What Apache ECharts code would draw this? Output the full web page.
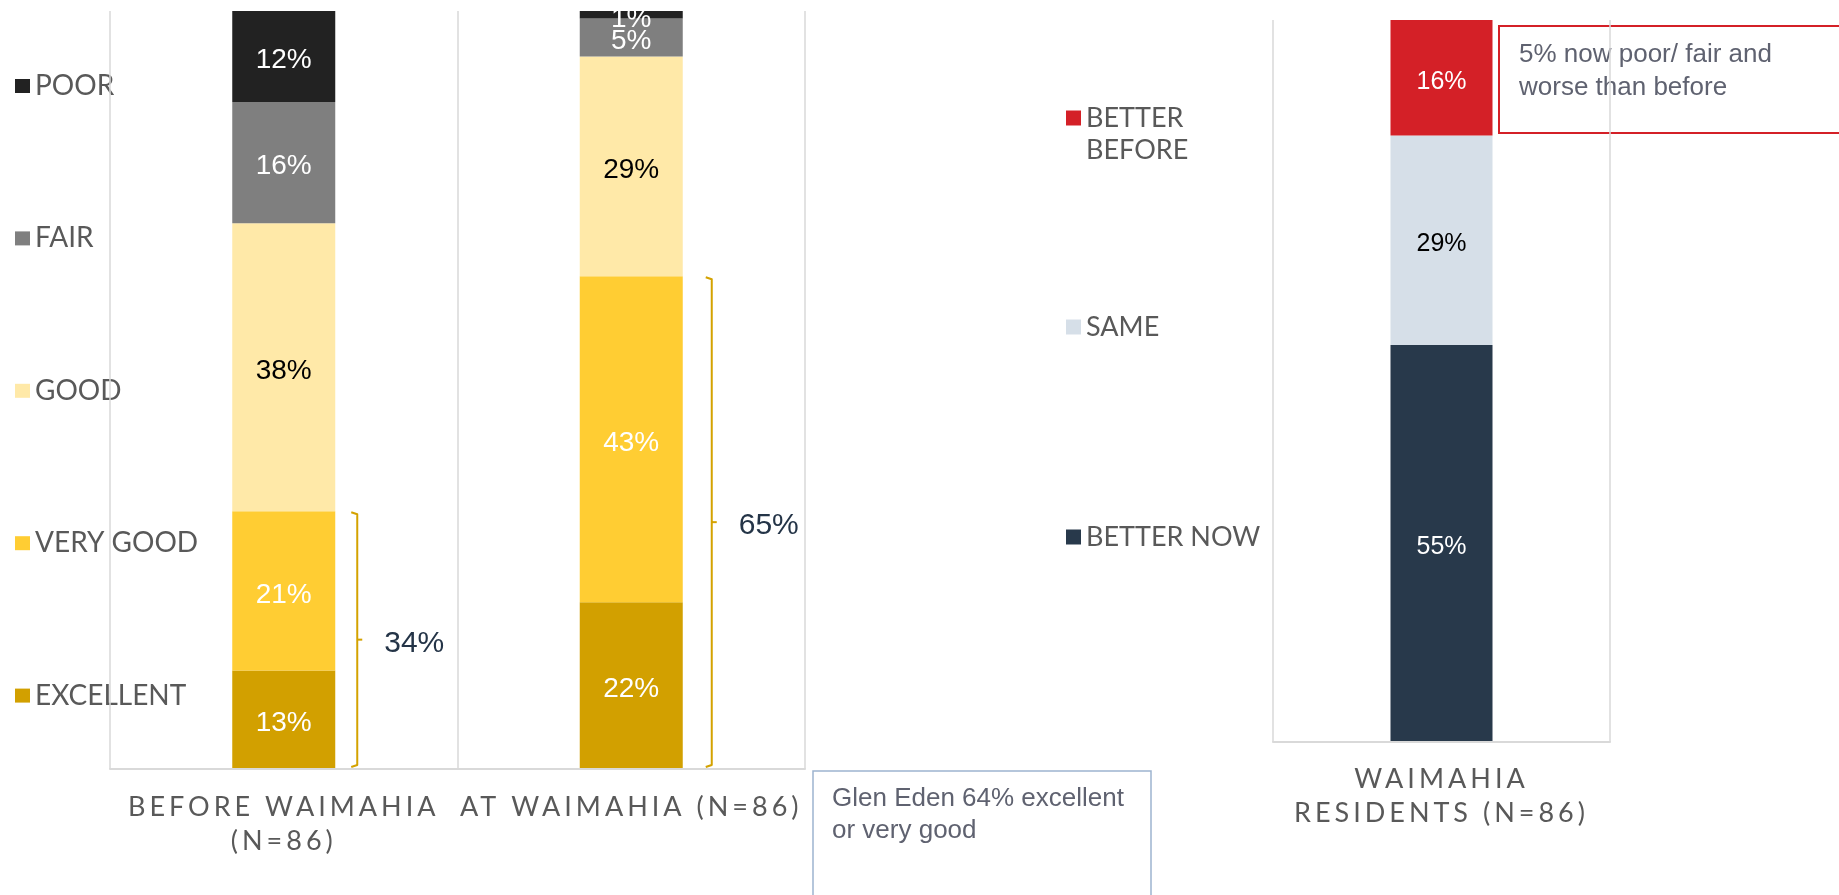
<!DOCTYPE html>
<html><head><meta charset="utf-8">
<script src="https://cdn.jsdelivr.net/npm/echarts@6/dist/echarts.min.js"></script>
<style>html,body{margin:0;padding:0;background:#fff}#c{width:1839px;height:895px}</style>
</head><body><div id="c"></div>
<script>
// ---- data ----
const ratingCategories = ['BEFORE WAIMAHIA\n(N=86)', 'AT WAIMAHIA (N=86)'];
const ratingLegend = ['POOR', 'FAIR', 'GOOD', 'VERY GOOD', 'EXCELLENT'];
const excellent = [13, 22];
const veryGood = [21, 43];
const good = [38, 29];
const fair = [16, 5];
const poor = [12, 1];

const changeCategories = ['WAIMAHIA\nRESIDENTS (N=86)'];
const betterNow = [55];
const same = [29];
const betterBefore = [16];

const noteLeft = 'Glen Eden 64% excellent\nor very good';
const noteRight = '5% now poor/ fair and\nworse than before';

// ---- styles ----
const GRID_COLOR = '#d9d9d9';
const TEXT_GRAY = '#595959';
const GOLD = '#d4a200';
const LEFT_BAR_W = 103;
const RIGHT_BAR_W = 102;
const bracketOffsets = [22, 29];
const labelFont = '"Liberation Sans", Arial, sans-serif';

function barSeries(name, data, color, labelColor, axis, stack, width, fontSize) {
  return {
    name, type: 'bar', data, stack, xAxisIndex: axis, yAxisIndex: axis, barWidth: width,
    itemStyle: { color },
    label: { show: true, position: 'inside', offset: [0, 4], formatter: p => p.value + '%', color: labelColor,
             fontFamily: labelFont, fontSize },
    emphasis: { disabled: true }, animation: false
  };
}

const axisCommon = {
  type: 'category', zlevel: 5,
  axisLine: { lineStyle: { color: GRID_COLOR, width: 2 } },
  axisTick: { length: 9, lineStyle: { color: GRID_COLOR, width: 1.5 } },
  splitLine: { show: true, lineStyle: { color: GRID_COLOR, width: 1.5 } },
  axisLabel: { interval: 0, fontFamily: 'Lato', fontSize: 27, color: TEXT_GRAY }
};

const option = {
  animation: false,
  backgroundColor: '#fff',
  grid: [
    { left: 110, top: 11, width: 695, height: 758 },
    { left: 1273, top: 20, width: 337, height: 722 }
  ],
  xAxis: [
    Object.assign({}, axisCommon, { gridIndex: 0, data: ratingCategories,
      axisLabel: Object.assign({}, axisCommon.axisLabel, { margin: 21, lineHeight: 34 }) }),
    Object.assign({}, axisCommon, { gridIndex: 1, data: changeCategories,
      axisLabel: Object.assign({}, axisCommon.axisLabel, { margin: 20, lineHeight: 34 }) })
  ],
  yAxis: [
    { type: 'value', gridIndex: 0, min: 0, max: 100, show: false },
    { type: 'value', gridIndex: 1, min: 0, max: 100, show: false }
  ],
  legend: [
    { data: ratingLegend, orient: 'vertical', left: 15, top: 72, padding: 0, itemGap: 124.4,
      itemWidth: 15, itemHeight: 14, icon: 'rect', selectedMode: false,
      textStyle: { fontFamily: 'Lato', fontSize: 28, lineHeight: 28, color: TEXT_GRAY } },
    { data: ['BETTER BEFORE'], orient: 'vertical', left: 1066, top: 70, padding: 0,
      itemWidth: 15, itemHeight: 15, icon: 'rect', selectedMode: false,
      formatter: n => '\n' + n.replace(' ', '\n'),
      textStyle: { fontFamily: 'Lato', fontSize: 27, lineHeight: 32, color: TEXT_GRAY } },
    { data: ['SAME', 'BETTER NOW'], orient: 'vertical', left: 1066, top: 312, padding: 0, itemGap: 180,
      itemWidth: 15, itemHeight: 15, icon: 'rect', selectedMode: false,
      textStyle: { fontFamily: 'Lato', fontSize: 27, lineHeight: 30, color: TEXT_GRAY } }
  ],
  series: [
    barSeries('EXCELLENT', excellent, '#d2a000', '#fff', 0, 'rating', LEFT_BAR_W, 28),
    barSeries('VERY GOOD', veryGood, '#ffcd33', '#fff', 0, 'rating', LEFT_BAR_W, 28),
    barSeries('GOOD', good, '#ffe9a8', '#000', 0, 'rating', LEFT_BAR_W, 28),
    barSeries('FAIR', fair, '#7f7f7f', '#fff', 0, 'rating', LEFT_BAR_W, 28),
    barSeries('POOR', poor, '#222222', '#fff', 0, 'rating', LEFT_BAR_W, 28),
    barSeries('BETTER NOW', betterNow, '#28394b', '#fff', 1, 'change', RIGHT_BAR_W, 25),
    barSeries('SAME', same, '#d6dfe8', '#000', 1, 'change', RIGHT_BAR_W, 25),
    barSeries('BETTER BEFORE', betterBefore, '#d42027', '#fff', 1, 'change', RIGHT_BAR_W, 25),
    {
      type: 'custom', xAxisIndex: 0, yAxisIndex: 0, z: 5, silent: true,
      data: ratingCategories.map((c, i) => [i, excellent[i] + veryGood[i]]),
      renderItem(params, api) {
        const i = api.value(0), v = api.value(1);
        const top = api.coord([i, v]);
        const base = api.coord([i, 0]);
        const x = top[0] + LEFT_BAR_W / 2 + bracketOffsets[params.dataIndex];
        const y1 = top[1] + 1, y2 = base[1] - 2, ym = (y1 + y2) / 2;
        return { type: 'group', children: [
          { type: 'polyline', shape: { points: [[x - 6, y1], [x, y1 + 2], [x, y2 - 2], [x - 6, y2]] },
            style: { stroke: GOLD, lineWidth: 2, fill: 'none', lineJoin: 'round' } },
          { type: 'line', shape: { x1: x, y1: ym, x2: x + 5, y2: ym }, style: { stroke: GOLD, lineWidth: 2 } },
          { type: 'text', x: x + 27, y: ym + 4,
            style: { text: v + '%', font: '30px "Liberation Sans", Arial', fill: '#243447',
                     verticalAlign: 'middle', align: 'left' } }
        ] };
      }
    }
  ],
  graphic: {
    zlevel: 6,
    elements: [
      { type: 'rect', shape: { x: 90, y: 0, width: 730, height: 11 }, style: { fill: '#fff' } },
      { type: 'rect', shape: { x: 813, y: 771, width: 338, height: 150 },
        style: { fill: '#fff', stroke: '#9db4cf', lineWidth: 1.5 } },
      { type: 'text', x: 832, y: 783,
        style: { text: noteLeft, font: '26px "Liberation Sans", Arial', fill: '#5f6270', lineHeight: 32 } },
      { type: 'rect', shape: { x: 1499, y: 26, width: 400, height: 107 },
        style: { fill: '#fff', stroke: '#d42027', lineWidth: 2 } },
      { type: 'text', x: 1519, y: 38,
        style: { text: noteRight, font: '26px "Liberation Sans", Arial', fill: '#5f6270', lineHeight: 33 } }
    ]
  }
};

const chart = echarts.init(document.getElementById('c'), null, { renderer: 'canvas' });
chart.setOption(option);
try {
  const painter = chart.getZr().painter;
  const layer = painter.getLayer(5);
  if (layer && layer.ctx && ('letterSpacing' in layer.ctx)) {
    layer.ctx.letterSpacing = '4px';
    painter.refresh(true);
  }
} catch (e) {}
</script>
</body></html>
